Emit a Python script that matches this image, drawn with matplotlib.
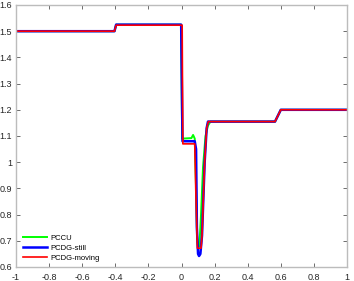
import matplotlib
matplotlib.use('Agg')
import matplotlib.pyplot as plt

# breakpoints
x_pccu = [-1, -0.405, -0.395, -0.003, 0.004, 0.06, 0.07, 0.08, 0.088, 0.094, 0.1, 0.108, 0.118, 0.13, 0.145, 0.16, 0.175, 0.565, 0.6, 1]
y_pccu = [1.5, 1.5, 1.525, 1.525, 1.09, 1.092, 1.104, 1.09, 0.9, 0.72, 0.675, 0.68, 0.8, 0.98, 1.1, 1.14, 1.155, 1.155, 1.2, 1.2]

x_still = [-1, -0.405, -0.395, -0.002, 0.006, 0.08, 0.088, 0.093, 0.1, 0.106, 0.114, 0.124, 0.14, 0.152, 0.16, 0.565, 0.6, 1]
y_still = [1.5, 1.5, 1.525, 1.525, 1.08, 1.08, 1.05, 0.75, 0.65, 0.642, 0.65, 0.72, 1.0, 1.13, 1.155, 1.155, 1.2, 1.2]

x_moving = [-1, -0.405, -0.395, 0.004, 0.008, 0.08, 0.086, 0.096, 0.118, 0.124, 0.14, 0.152, 0.162, 0.565, 0.6, 1]
y_moving = [1.5, 1.5, 1.523, 1.523, 1.07, 1.07, 0.9, 0.672, 0.672, 0.72, 1.0, 1.13, 1.155, 1.155, 1.2, 1.2]

xticks = [-1, -0.8, -0.6, -0.4, -0.2, 0, 0.2, 0.4, 0.6, 0.8, 1]
xtick_labels = ['-1', '-0.8', '-0.6', '-0.4', '-0.2', '0', '0.2', '0.4', '0.6', '0.8', '1']
yticks = [0.6, 0.7, 0.8, 0.9, 1, 1.1, 1.2, 1.3, 1.4, 1.5, 1.6]
ytick_labels = ['0.6', '0.7', '0.8', '0.9', '1', '1.1', '1.2', '1.3', '1.4', '1.5', '1.6']

plt.rcParams['font.family'] = ['Liberation Sans', 'DejaVu Sans']

fig = plt.figure(figsize=(3.54, 2.81), dpi=100)
ax = fig.add_axes([16 / 354, 14 / 281, 331 / 354, 262 / 281])

ax.plot(x_pccu, y_pccu, color='#00ff00', lw=1.4, label='PCCU')
ax.plot(x_still, y_still, color='#0000ff', lw=1.8, label='PCDG-still')
ax.plot(x_moving, y_moving, color='#ff0000', lw=1.2, label='PCDG-moving')

ax.set_xlim(-1, 1)
ax.set_ylim(0.6, 1.6)
ax.set_xticks(xticks)
ax.set_xticklabels(xtick_labels)
ax.set_yticks(yticks)
ax.set_yticklabels(ytick_labels)

for s in ax.spines.values():
    s.set_color('#bcbcbc')
    s.set_linewidth(1.0)
ax.tick_params(direction='in', length=3, width=0.6, color='#555555',
               labelsize=6.5, labelcolor='#262626', top=True, right=True)
ax.tick_params(axis='x', pad=4)
ax.tick_params(axis='y', pad=3)

leg = ax.legend(loc='lower left', frameon=False, fontsize=5.5, handlelength=3.2,
                handletextpad=0.4, labelspacing=0.35, borderaxespad=0.3,
                bbox_to_anchor=(0.005, 0.0))

fig.savefig('out.png', dpi=100)
plt.close(fig)
